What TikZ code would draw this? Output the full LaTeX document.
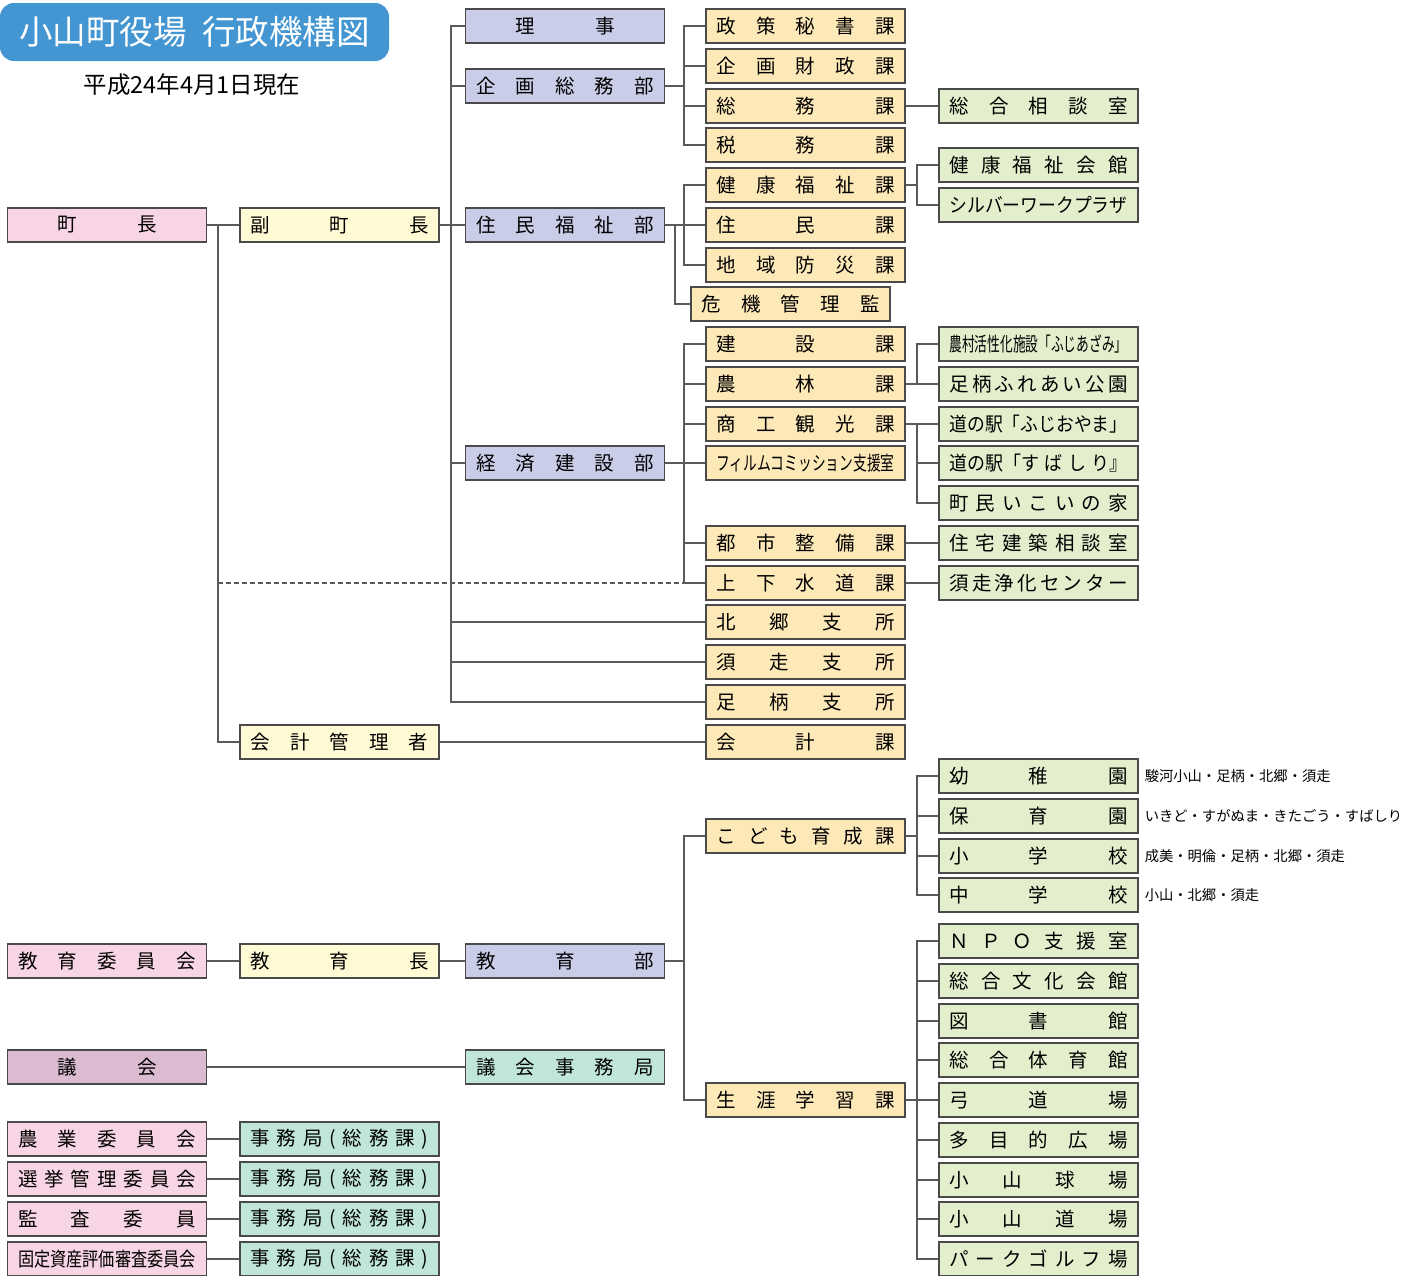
\documentclass[tikz,border=0pt]{standalone}
\usepackage{fontspec}
\usepackage{graphicx}
\setmainfont{Noto Sans CJK JP}
\definecolor{cpink}{HTML}{F8D5E4}
\definecolor{cyel}{HTML}{FFF9D4}
\definecolor{clav}{HTML}{C9CDE8}
\definecolor{cora}{HTML}{FDE8B8}
\definecolor{cgrn}{HTML}{E3EECD}
\definecolor{cmint}{HTML}{C0E5DA}
\definecolor{cmauve}{HTML}{DABBD1}
\definecolor{ctitle}{HTML}{4396D1}
\definecolor{bordc}{HTML}{4A4A4A}
\definecolor{linec}{HTML}{5A5A5A}
\newcommand\HF{\hfill}
\newcommand\JB[1]{\makebox[178pt][s]{#1}}
\newcommand\JT[1]{\makebox[100pt][s]{#1}}
\newcommand\JF[1]{\resizebox{178pt}{\height}{#1}}
\tikzset{
  bx/.style={draw=bordc, line width=1.1pt, minimum width=199pt, minimum height=34pt, inner sep=0pt, font=\fontsize{19.5}{19.5}\selectfont},
  pinkb/.style={bx, fill=cpink},
  yelb/.style={bx, fill=cyel},
  lavb/.style={bx, fill=clav},
  orab/.style={bx, fill=cora},
  grnb/.style={bx, fill=cgrn},
  mintb/.style={bx, fill=cmint},
  mauveb/.style={bx, fill=cmauve},
  conn/.style={draw=linec, line width=1.3pt},
  dconn/.style={conn, dash pattern=on 5pt off 3pt},
  note/.style={anchor=west, inner sep=0pt, xshift=6pt, font=\fontsize{14.3}{14.3}\selectfont},
}
\begin{document}
\begin{tikzpicture}[x=1pt,y=-1pt]
\useasboundingbox (0,0) rectangle (1418,1275);
% title
\node[fill=ctitle, rounded corners=14pt, minimum width=389pt, minimum height=58pt, inner sep=0pt, text=white, font=\fontsize{33.5}{33.5}\selectfont] (title) at (194.5,32) {小山町役場\hspace{0.45em}行政機構図};
\node[font=\fontsize{23.5}{23.5}\selectfont, inner sep=0pt] (date) at (192,85) {平成24年4月1日現在};
% trunk coordinates
\coordinate (t1) at (218,0);
\coordinate (t2) at (451,0);
\coordinate (t3) at (684,0);
\coordinate (t4) at (675,0);
\coordinate (t5) at (917,0);
% column A
\node[pinkb] (chou) at (107,225) {\JT{町\HF 長}};
\node[pinkb] (kyoiin) at (107,961) {\JB{教\HF 育\HF 委\HF 員\HF 会}};
\node[mauveb] (gikai) at (107,1067) {\JT{議\HF 会}};
\node[pinkb] (nogyo) at (107,1139) {\JB{農\HF 業\HF 委\HF 員\HF 会}};
\node[pinkb] (senkyo) at (107,1179) {\JB{選\HF 挙\HF 管\HF 理\HF 委\HF 員\HF 会}};
\node[pinkb] (kansa) at (107,1219) {\JB{監\HF 査\HF 委\HF 員}};
\node[pinkb] (kotei) at (107,1259) {\JF{固定資産評価審査委員会}};
% column B
\node[yelb] (fuku) at (339.5,225) {\JB{副\HF 町\HF 長}};
\node[yelb] (kkanri) at (339.5,742) {\JB{会\HF 計\HF 管\HF 理\HF 者}};
\node[yelb] (kyoikucho) at (339.5,961) {\JB{教\HF 育\HF 長}};
\node[mintb] (jim1) at (339.5,1139) {\JB{事\HF 務\HF 局\HF (\HF 総\HF 務\HF 課\HF )}};
\node[mintb] (jim2) at (339.5,1179) {\JB{事\HF 務\HF 局\HF (\HF 総\HF 務\HF 課\HF )}};
\node[mintb] (jim3) at (339.5,1219) {\JB{事\HF 務\HF 局\HF (\HF 総\HF 務\HF 課\HF )}};
\node[mintb] (jim4) at (339.5,1259) {\JB{事\HF 務\HF 局\HF (\HF 総\HF 務\HF 課\HF )}};
% column C
\node[lavb] (riji) at (565,26) {\JT{理\HF 事}};
\node[lavb] (kikaku) at (565,86) {\JB{企\HF 画\HF 総\HF 務\HF 部}};
\node[lavb] (jumin) at (565,225) {\JB{住\HF 民\HF 福\HF 祉\HF 部}};
\node[lavb] (keizai) at (565,463) {\JB{経\HF 済\HF 建\HF 設\HF 部}};
\node[lavb] (kyoikubu) at (565,961) {\JB{教\HF 育\HF 部}};
\node[mintb] (gikaijim) at (565,1067) {\JB{議\HF 会\HF 事\HF 務\HF 局}};
% column D
\node[orab] (seisaku) at (805.5,26) {\JB{政\HF 策\HF 秘\HF 書\HF 課}};
\node[orab] (zaisei) at (805.5,66) {\JB{企\HF 画\HF 財\HF 政\HF 課}};
\node[orab] (somu) at (805.5,106) {\JB{総\HF 務\HF 課}};
\node[orab] (zeimu) at (805.5,145) {\JB{税\HF 務\HF 課}};
\node[orab] (kenko) at (805.5,185) {\JB{健\HF 康\HF 福\HF 祉\HF 課}};
\node[orab] (juminka) at (805.5,225) {\JB{住\HF 民\HF 課}};
\node[orab] (bousai) at (805.5,265) {\JB{地\HF 域\HF 防\HF 災\HF 課}};
\node[orab] (kiki) at (790.5,304) {\JB{危\HF 機\HF 管\HF 理\HF 監}};
\node[orab] (kensetsu) at (805.5,344) {\JB{建\HF 設\HF 課}};
\node[orab] (norin) at (805.5,384) {\JB{農\HF 林\HF 課}};
\node[orab] (shoko) at (805.5,424) {\JB{商\HF 工\HF 観\HF 光\HF 課}};
\node[orab] (film) at (805.5,463) {\JF{フィルムコミッション支援室}};
\node[orab] (toshi) at (805.5,543) {\JB{都\HF 市\HF 整\HF 備\HF 課}};
\node[orab] (gesui) at (805.5,583) {\JB{上\HF 下\HF 水\HF 道\HF 課}};
\node[orab] (hokugo) at (805.5,622) {\JB{北\HF 郷\HF 支\HF 所}};
\node[orab] (subashiri) at (805.5,662) {\JB{須\HF 走\HF 支\HF 所}};
\node[orab] (ashigara) at (805.5,702) {\JB{足\HF 柄\HF 支\HF 所}};
\node[orab] (kaikeika) at (805.5,742) {\JB{会\HF 計\HF 課}};
\node[orab] (kodomo) at (805.5,836) {\JB{こ\HF ど\HF も\HF 育\HF 成\HF 課}};
\node[orab] (shogai) at (805.5,1100) {\JB{生\HF 涯\HF 学\HF 習\HF 課}};
% column E
\node[grnb] (sodan) at (1038.5,106) {\JB{総\HF 合\HF 相\HF 談\HF 室}};
\node[grnb] (kkaikan) at (1038.5,165) {\JB{健\HF 康\HF 福\HF 祉\HF 会\HF 館}};
\node[grnb] (silver) at (1038.5,205) {\JF{シルバーワークプラザ}};
\node[grnb] (noson) at (1038.5,344) {\JF{農村活性化施設「ふじあざみ」}};
\node[grnb] (fureai) at (1038.5,384) {\JB{足\HF 柄\HF ふ\HF れ\HF あ\HF い\HF 公\HF 園}};
\node[grnb] (michi1) at (1038.5,424) {\JF{道の駅「ふじおやま」}};
\node[grnb] (michi2) at (1038.5,463) {\JF{道の駅「す\hspace{0.3em}ば\hspace{0.3em}し\hspace{0.3em}り』}};
\node[grnb] (ikoi) at (1038.5,503) {\JB{町\HF 民\HF い\HF こ\HF い\HF の\HF 家}};
\node[grnb] (jutaku) at (1038.5,543) {\JB{住\HF 宅\HF 建\HF 築\HF 相\HF 談\HF 室}};
\node[grnb] (joka) at (1038.5,583) {\JB{須\HF 走\HF 浄\HF 化\HF セ\HF ン\HF タ\HF ー}};
\node[grnb] (yochien) at (1038.5,776) {\JB{幼\HF 稚\HF 園}};
\node[grnb] (hoikuen) at (1038.5,816) {\JB{保\HF 育\HF 園}};
\node[grnb] (shogakko) at (1038.5,856) {\JB{小\HF 学\HF 校}};
\node[grnb] (chugakko) at (1038.5,895) {\JB{中\HF 学\HF 校}};
\node[grnb] (npo) at (1038.5,941) {\JB{Ｎ\HF Ｐ\HF Ｏ\HF 支\HF 援\HF 室}};
\node[grnb] (bunka) at (1038.5,981) {\JB{総\HF 合\HF 文\HF 化\HF 会\HF 館}};
\node[grnb] (tosho) at (1038.5,1021) {\JB{図\HF 書\HF 館}};
\node[grnb] (taiiku) at (1038.5,1060) {\JB{総\HF 合\HF 体\HF 育\HF 館}};
\node[grnb] (kyudo) at (1038.5,1100) {\JB{弓\HF 道\HF 場}};
\node[grnb] (tamoku) at (1038.5,1140) {\JB{多\HF 目\HF 的\HF 広\HF 場}};
\node[grnb] (kyujo) at (1038.5,1180) {\JB{小\HF 山\HF 球\HF 場}};
\node[grnb] (dojo) at (1038.5,1219) {\JB{小\HF 山\HF 道\HF 場}};
\node[grnb] (park) at (1038.5,1259) {\JB{パ\HF ー\HF ク\HF ゴ\HF ル\HF フ\HF 場}};
% notes
\node[note] (n1) at (yochien.east) {駿河小山・足柄・北郷・須走};
\node[note] (n2) at (hoikuen.east) {いきど・すがぬま・きたごう・すばしり};
\node[note] (n3) at (shogakko.east) {成美・明倫・足柄・北郷・須走};
\node[note] (n4) at (chugakko.east) {小山・北郷・須走};
% connectors: mayor
\draw[conn] (chou) -- (fuku);
\draw[conn] (chou.east -| t1) |- (kkanri.west);
\draw[dconn] (gesui.west -| t1) -- (gesui.west -| t3);
% deputy mayor trunk
\draw[conn] (fuku) -- (jumin);
\draw[conn] (riji.west) -| (ashigara.west -| t2) -- (ashigara.west);
\draw[conn] (kikaku.west -| t2) -- (kikaku.west);
\draw[conn] (keizai.west -| t2) -- (keizai.west);
\draw[conn] (hokugo.west -| t2) -- (hokugo.west);
\draw[conn] (subashiri.west -| t2) -- (subashiri.west);
% kikaku
\draw[conn] (kikaku.east) -- (kikaku.east -| t3);
\draw[conn] (seisaku.west) -| (zeimu.west -| t3) -- (zeimu.west);
\draw[conn] (zaisei.west -| t3) -- (zaisei.west);
\draw[conn] (somu.west -| t3) -- (somu.west);
% jumin
\draw[conn] (jumin) -- (juminka);
\draw[conn] (kenko.west) -| (bousai.west -| t3) -- (bousai.west);
\draw[conn] (jumin.east -| t4) |- (kiki.west);
% keizai
\draw[conn] (keizai) -- (film);
\draw[conn] (kensetsu.west) -| (gesui.west -| t3) -- (gesui.west);
\draw[conn] (norin.west -| t3) -- (norin.west);
\draw[conn] (shoko.west -| t3) -- (shoko.west);
\draw[conn] (toshi.west -| t3) -- (toshi.west);
% D -> E
\draw[conn] (somu) -- (sodan);
\draw[conn] (kenko.east) -- (kenko.east -| t5);
\draw[conn] (kkaikan.west) -| (silver.west -| t5) -- (silver.west);
\draw[conn] (norin) -- (fureai);
\draw[conn] (noson.west) -| (fureai.west -| t5);
\draw[conn] (shoko) -- (michi1);
\draw[conn] (michi1.west -| t5) |- (ikoi.west);
\draw[conn] (michi2.west -| t5) -- (michi2.west);
\draw[conn] (toshi) -- (jutaku);
\draw[conn] (gesui) -- (joka);
% accounting
\draw[conn] (kkanri) -- (kaikeika);
% education
\draw[conn] (kyoiin) -- (kyoikucho);
\draw[conn] (kyoikucho) -- (kyoikubu);
\draw[conn] (kyoikubu.east) -- (kyoikubu.east -| t3);
\draw[conn] (kodomo.west) -| (shogai.west -| t3) -- (shogai.west);
\draw[conn] (kodomo.east) -- (kodomo.east -| t5);
\draw[conn] (yochien.west) -| (chugakko.west -| t5) -- (chugakko.west);
\draw[conn] (hoikuen.west -| t5) -- (hoikuen.west);
\draw[conn] (shogakko.west -| t5) -- (shogakko.west);
\draw[conn] (shogai) -- (kyudo);
\draw[conn] (npo.west) -| (park.west -| t5) -- (park.west);
\draw[conn] (bunka.west -| t5) -- (bunka.west);
\draw[conn] (tosho.west -| t5) -- (tosho.west);
\draw[conn] (taiiku.west -| t5) -- (taiiku.west);
\draw[conn] (tamoku.west -| t5) -- (tamoku.west);
\draw[conn] (kyujo.west -| t5) -- (kyujo.west);
\draw[conn] (dojo.west -| t5) -- (dojo.west);
% council and committees
\draw[conn] (gikai) -- (gikaijim);
\draw[conn] (nogyo) -- (jim1);
\draw[conn] (senkyo) -- (jim2);
\draw[conn] (kansa) -- (jim3);
\draw[conn] (kotei) -- (jim4);
\end{tikzpicture}
\end{document}
